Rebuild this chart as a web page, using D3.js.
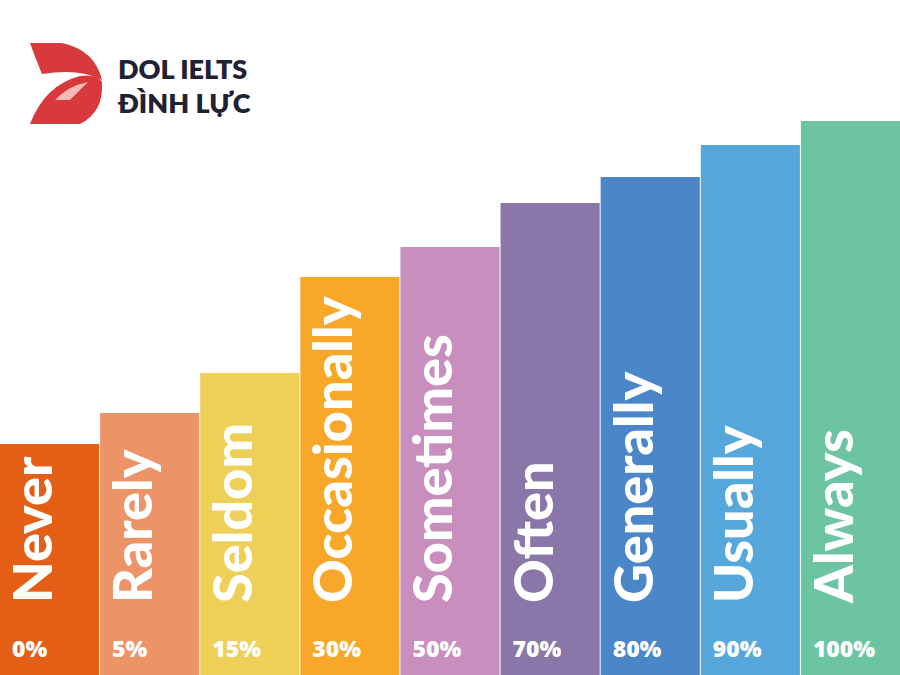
<!DOCTYPE html>
<html><head><meta charset="utf-8">
<script src="https://cdn.jsdelivr.net/npm/d3@7"></script>
<style>body{margin:0;background:#fff}svg{display:block}</style></head>
<body><svg id="c" width="900" height="675"></svg>
<script>
const categories=["Never","Rarely","Seldom","Occasionally","Sometimes","Often","Generally","Usually","Always"];
const percents=["0%","5%","15%","30%","50%","70%","80%","90%","100%"];
const heights=[231,262,302,398,428,472,498,530,554];
const colors=["#E55E16","#EC9368","#EECF58","#F8A728","#C78EBE","#8A76A9","#4A86C8","#56A8DC","#6DC4A3"];
const svg=d3.select("#c");
const x=d3.scaleBand().domain(categories).range([0,900]).paddingInner(0.01);
const y=d3.scaleLinear().domain([0,675]).range([675,0]);
const g=svg.selectAll("g.b").data(categories).join("g");
g.append("rect").attr("x",d=>x(d)).attr("width",x.bandwidth())
 .attr("y",(d,i)=>y(heights[i])).attr("height",(d,i)=>675-y(heights[i])).attr("fill",(d,i)=>colors[i]);
g.append("text").attr("transform",d=>`translate(${x(d)+52},603) rotate(-90)`)
 .attr("fill","#fff").attr("font-family","Lato, 'Open Sans', sans-serif").attr("font-weight",900)
 .attr("font-size",54).text(d=>d);
g.append("text").attr("x",d=>x(d)+12).attr("y",657).attr("fill","#fff")
 .attr("font-family","'Open Sans', sans-serif").attr("font-weight",800).attr("font-size",23).text((d,i)=>percents[i]);
// logo
const L=svg.append("g");
L.append("path").attr("d","M30,43 L62,43 Q95,50 102,80 Q80,68 42,74 Q36,60 30,43 Z").attr("fill","#D8393A");
L.append("path").attr("d","M30,124 Q45,85 80,76 Q98,74 102,82 Q104,112 80,124 Z").attr("fill","#D8393A");
L.append("path").attr("d","M55,100 Q68,86 88,82 Q78,92 70,100 Z").attr("fill","#F4B9B6");
L.append("text").attr("x",118).attr("y",79).attr("font-family","Lato, sans-serif").attr("font-weight",800)
 .attr("font-size",27).attr("fill","#1F2233").text("DOL IELTS");
L.append("text").attr("x",118).attr("y",113).attr("font-family","Lato, sans-serif").attr("font-weight",800)
 .attr("font-size",27).attr("fill","#1F2233").text("ĐÌNH LỰC");
</script></body></html>
